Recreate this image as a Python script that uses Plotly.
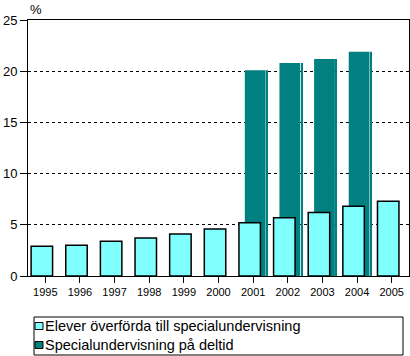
import plotly.graph_objects as go

years = ["1995", "1996", "1997", "1998", "1999", "2000", "2001", "2002", "2003", "2004", "2005"]
elever = [2.9, 3.0, 3.4, 3.7, 4.1, 4.6, 5.2, 5.7, 6.2, 6.8, 7.3]
deltid = [None, None, None, None, None, None, 20.1, 20.8, 21.2, 21.9, None]
legend_names = ["Elever överförda till specialundervisning", "Specialundervisning på deltid"]
colors = ["#80FFFF", "#008080"]

W, H = 410, 356
L, R, T, B = 28, 409, 20, 276
pw, ph = R - L, B - T

def px(x):
    return (x - L) / pw

def py(y):
    return (B - y) / ph

fig = go.Figure()
# thin edge line to the right of each teal bar (as in the reference's 3D-like look)
fig.add_trace(go.Bar(x=years, y=deltid, marker_color=colors[1], marker_line_width=0,
                     width=0.035, offset=0.385, showlegend=False, hoverinfo="skip"))
fig.add_trace(go.Bar(x=years, y=deltid, name=legend_names[1], marker_color=colors[1],
                     marker_line_width=0, width=0.6, offset=-0.24, showlegend=False))
fig.add_trace(go.Bar(x=years, y=elever, name=legend_names[0], marker_color=colors[0],
                     marker_line_color="black", marker_line_width=1.5, width=0.62, offset=-0.41,
                     showlegend=False))

fig.update_layout(
    width=W, height=H,
    margin=dict(l=L, r=W - R, t=T, b=H - B, pad=0),
    paper_bgcolor="white", plot_bgcolor="white",
    barmode="overlay",
    font=dict(family="Liberation Sans, Arial, sans-serif", color="black"),
    showlegend=False,
)
fig.update_xaxes(type="category", range=[-0.5, 10.5], showline=True, linecolor="black", linewidth=1,
                 mirror=True, ticks="outside", ticklen=6, tickcolor="black", showgrid=False,
                 tickfont=dict(size=11))
fig.update_yaxes(range=[0, 25], dtick=5, showline=True, linecolor="black", linewidth=1, mirror=True,
                 ticks="outside", ticklen=7, tickcolor="black", showgrid=True, gridcolor="black",
                 griddash="3px,3px", gridwidth=1, tickfont=dict(size=13), zeroline=False)

# "%" unit label
fig.add_annotation(text="%", xref="paper", yref="paper", x=px(28), y=py(9), xanchor="left",
                   yanchor="middle", showarrow=False, font=dict(size=13))

# Manual legend box
fig.add_shape(type="rect", xref="paper", yref="paper", x0=px(34), x1=px(403), y0=py(317), y1=py(355),
              line=dict(color="black", width=1), fillcolor="white")
rows = [326, 345]
for name, col, yc in zip(legend_names, colors, rows):
    fig.add_shape(type="rect", xref="paper", yref="paper", x0=px(35), x1=px(43), y0=py(yc - 3.5),
                  y1=py(yc + 3.5), line=dict(color="black", width=1), fillcolor=col)
    fig.add_annotation(text=name, xref="paper", yref="paper", x=px(43), y=py(yc), xanchor="left",
                       yanchor="middle", showarrow=False, font=dict(size=14.5))

fig.write_html("out.html", config={"displayModeBar": False},
               post_script="document.body.style.margin='0';document.body.style.overflow='hidden';")
